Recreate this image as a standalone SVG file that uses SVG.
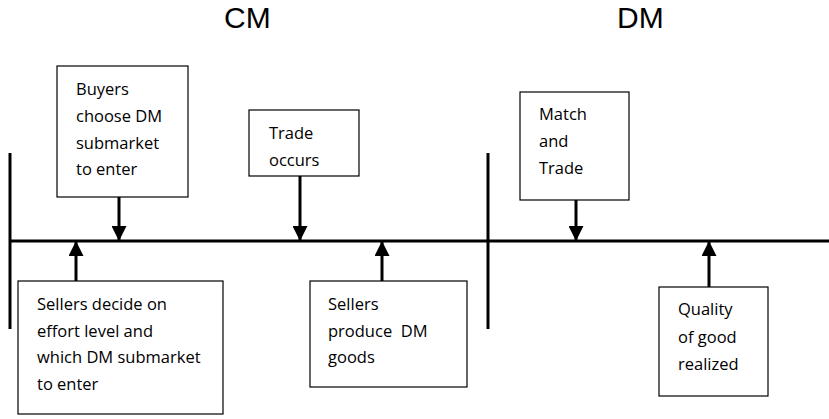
<svg xmlns="http://www.w3.org/2000/svg" width="829" height="419" viewBox="0 0 829 419">
<style>
.box{fill:#fff;stroke:#000;stroke-width:1.2}
.t{font-family:"Open Sans","Liberation Sans",Arial,sans-serif;font-size:16.5px;fill:#000}
.h{font-family:"Liberation Sans",Arial,sans-serif;font-size:30px;fill:#000}
.ln{stroke:#000;stroke-width:3;fill:none}
.ar{stroke:#000;stroke-width:3;fill:none}
</style>
<defs>
<marker id="ah" viewBox="0 0 10 10" refX="10" refY="5" markerWidth="15" markerHeight="15" markerUnits="userSpaceOnUse" orient="auto">
<path d="M0,0 L10,5 L0,10 Z" fill="#000"/>
</marker>
</defs>
<rect width="829" height="419" fill="#fff"/>
<text class="h" x="224" y="28">CM</text>
<text class="h" x="617" y="28">DM</text>
<g id="timeline">
<line class="ln" x1="10" y1="241" x2="829" y2="241"/>
<line class="ln" x1="10" y1="153" x2="10" y2="329"/>
<line class="ln" x1="488" y1="153" x2="488" y2="329"/>
</g>
<g id="connectors">
<line class="ar" x1="119" y1="197" x2="119" y2="241" marker-end="url(#ah)"/>
<line class="ar" x1="300" y1="176" x2="300" y2="241" marker-end="url(#ah)"/>
<line class="ar" x1="576" y1="200" x2="576" y2="241" marker-end="url(#ah)"/>
<line class="ar" x1="76" y1="281" x2="76" y2="241" marker-end="url(#ah)"/>
<line class="ar" x1="382" y1="281" x2="382" y2="241" marker-end="url(#ah)"/>
<line class="ar" x1="709" y1="287" x2="709" y2="241" marker-end="url(#ah)"/>
</g>
<g id="buyers">
<rect class="box" x="57" y="66" width="131" height="131"/>
<text class="t" x="76" y="95">Buyers</text>
<text class="t" x="76" y="122">choose DM</text>
<text class="t" x="76" y="149">submarket</text>
<text class="t" x="76" y="175">to enter</text>
</g>
<g id="trade">
<rect class="box" x="249" y="110" width="110" height="66"/>
<text class="t" x="269" y="139">Trade</text>
<text class="t" x="269" y="166">occurs</text>
</g>
<g id="match">
<rect class="box" x="520" y="92" width="109" height="108"/>
<text class="t" x="539" y="120">Match</text>
<text class="t" x="539" y="147">and</text>
<text class="t" x="539" y="174">Trade</text>
</g>
<g id="sellers">
<rect class="box" x="18" y="281" width="205" height="133"/>
<text class="t" x="37" y="310">Sellers decide on</text>
<text class="t" x="37" y="337">effort level and</text>
<text class="t" x="37" y="363">which DM submarket</text>
<text class="t" x="37" y="390">to enter</text>
</g>
<g id="produce">
<rect class="box" x="310" y="281" width="157" height="106"/>
<text class="t" x="328" y="310">Sellers</text>
<text class="t" x="328" y="337" xml:space="preserve">produce  DM</text>
<text class="t" x="328" y="363">goods</text>
</g>
<g id="quality">
<rect class="box" x="659" y="287" width="109" height="109"/>
<text class="t" x="678" y="315">Quality</text>
<text class="t" x="678" y="343">of good</text>
<text class="t" x="678" y="370">realized</text>
</g>
</svg>
